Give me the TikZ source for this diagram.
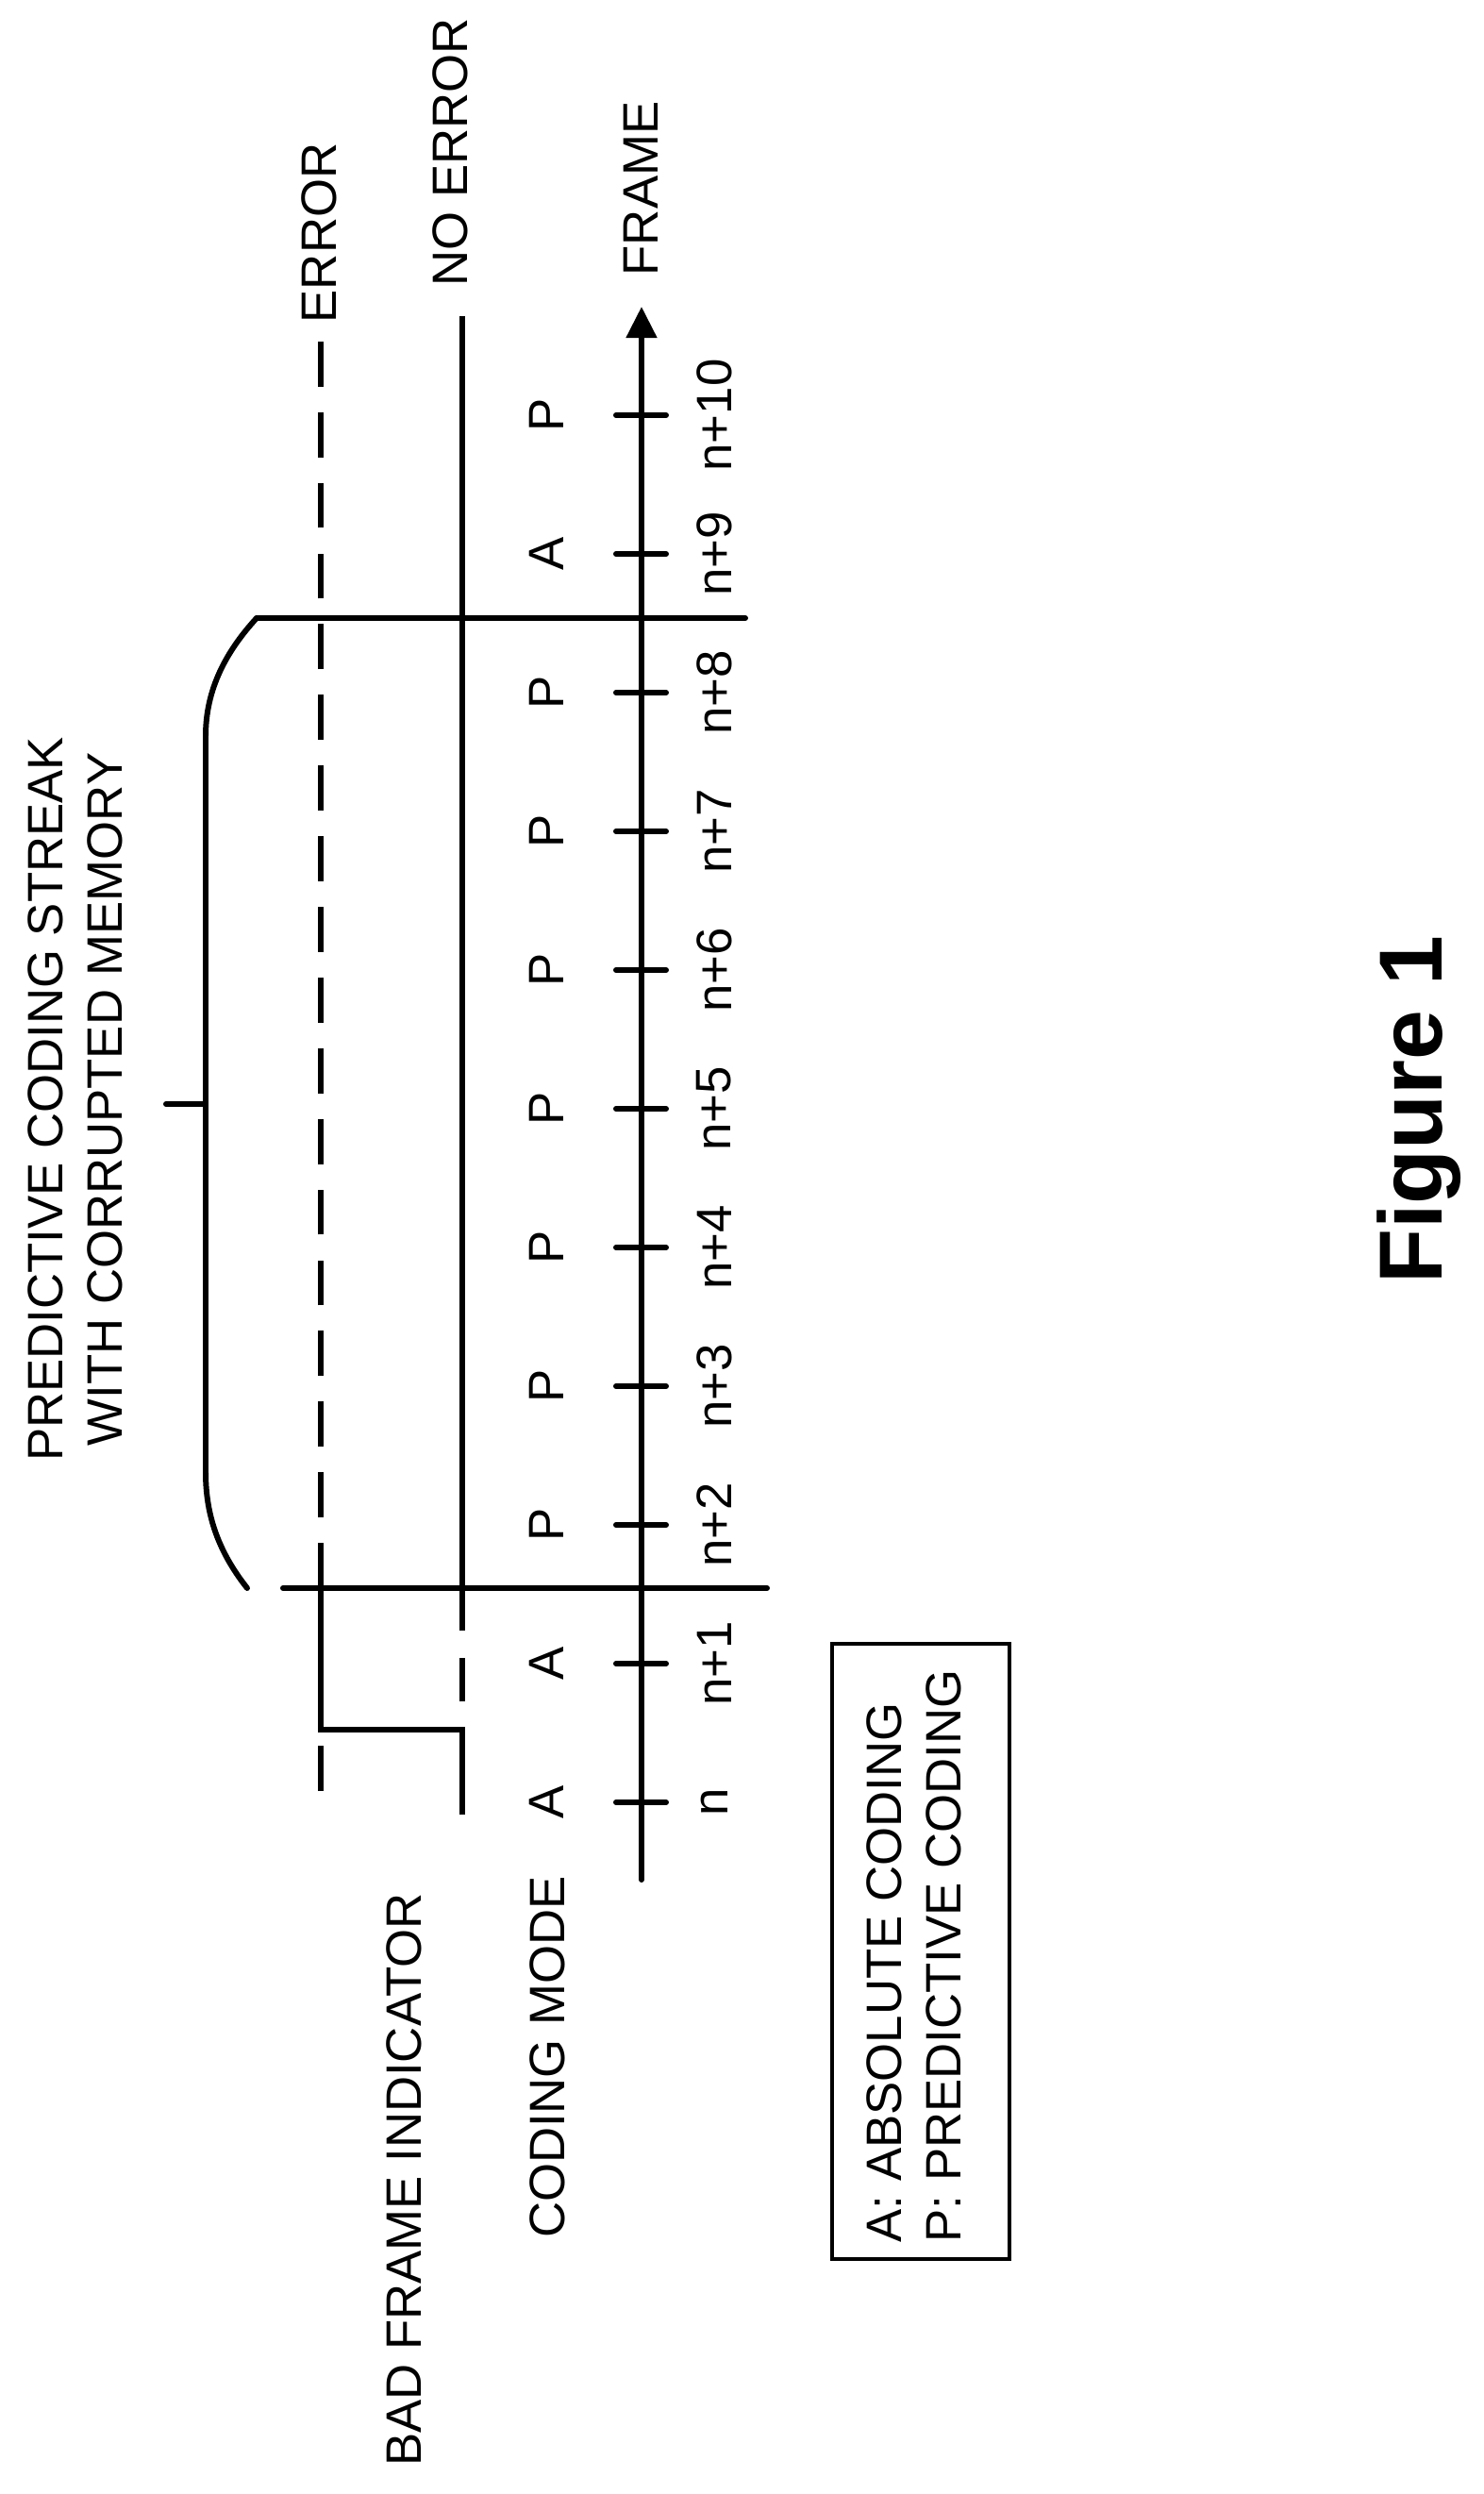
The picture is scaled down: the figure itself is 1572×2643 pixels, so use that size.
\documentclass[tikz,border=0pt]{standalone}
\usepackage{fontspec}
\setmainfont{Liberation Sans}
\usetikzlibrary{arrows.meta}
\begin{document}
\begin{tikzpicture}[x=0.01cm,y=-0.01cm,
  ln/.style={line width=1.7pt,line cap=round},
  dsh/.style={ln,line cap=butt,dash pattern=on 13.6pt off 7.7pt},
  lbl/.style={rotate=90,font=\fontsize{15}{18}\selectfont,inner sep=0pt}]
\useasboundingbox (0,0) rectangle (1572,2643);
% axis
\coordinate (ab) at (680,1992);
\coordinate (at) at (680,325);
\draw[ln,-{Triangle[length=9.4pt,width=9pt]}] (ab) -- (at);
\node[lbl] (frame) at (679,200) {FRAME};
\foreach \k/\t/\m in {0/n/A,1/n+1/A,2/n+2/P,3/n+3/P,4/n+4/P,5/n+5/P,6/n+6/P,7/n+7/P,8/n+8/P,9/n+9/A,10/n+10/P}{
  \pgfmathsetmacro{\yy}{1910-147*\k}
  \coordinate (tl\k) at (653,\yy);
  \coordinate (tr\k) at (706,\yy);
  \draw[ln] (tl\k) -- (tr\k);
  \node[lbl] (lab\k) at (757,\yy) {\t};
  \node[lbl] (mode\k) at (579,\yy) {\m};
}
% boundaries
\coordinate (b1l) at (300,1683); \coordinate (b1r) at (813,1683);
\coordinate (b2l) at (272,655); \coordinate (b2r) at (790,655);
\draw[ln] (b1l) -- (b1r);
\draw[ln] (b2l) -- (b2r);
% brace
\coordinate (bm) at (218,1170); \coordinate (bt) at (176,1170);
\draw[ln] (262,1683) .. controls (228,1640) and (218,1600) .. (218,1560) -- (218,780)
  .. controls (218,730) and (240,690) .. (272,655);
\draw[ln] (bm) -- (bt);
\node[lbl,align=center] (streak) at (80,1165) {PREDICTIVE CODING STREAK\\WITH CORRUPTED MEMORY};
% bad frame indicator signal
\coordinate (s0) at (490,1923); \coordinate (s1) at (490,1833);
\coordinate (s2) at (340,1833); \coordinate (s3) at (340,1683);
\draw[ln,line cap=butt] (s0) -- (s1) -- (s2) -- (s3);
\coordinate (e0) at (340,1898); \coordinate (e1) at (340,1850);
\draw[ln,line cap=butt] (e0) -- (e1);
\coordinate (ebot) at (340,1683); \coordinate (etop) at (340,355);
\draw[dsh] (ebot) -- (etop);
\node[lbl] (err) at (338,247) {ERROR};
\coordinate (n0) at (490,1803); \coordinate (n1) at (490,1757);
\draw[ln,line cap=butt] (n0) -- (n1);
\coordinate (n2) at (490,1728); \coordinate (ntop) at (490,335);
\draw[ln,line cap=butt] (n2) -- (ntop);
\node[lbl] (noerr) at (477,161) {NO ERROR};
\node[lbl] (bfi) at (428,2310) {BAD FRAME INDICATOR};
\node[lbl] (cm) at (580,2180) {CODING MODE};
% legend
\draw[line width=1.4pt] (882,1742) rectangle (1070,2394);
\node[lbl,anchor=south west,align=left] (leg) at (1020,2377) {A: ABSOLUTE CODING\\P: PREDICTIVE CODING};
\node[lbl,font=\fontsize{27}{32}\selectfont\bfseries] (fig) at (1504,1176) {Figure 1};
\end{tikzpicture}
\end{document}
